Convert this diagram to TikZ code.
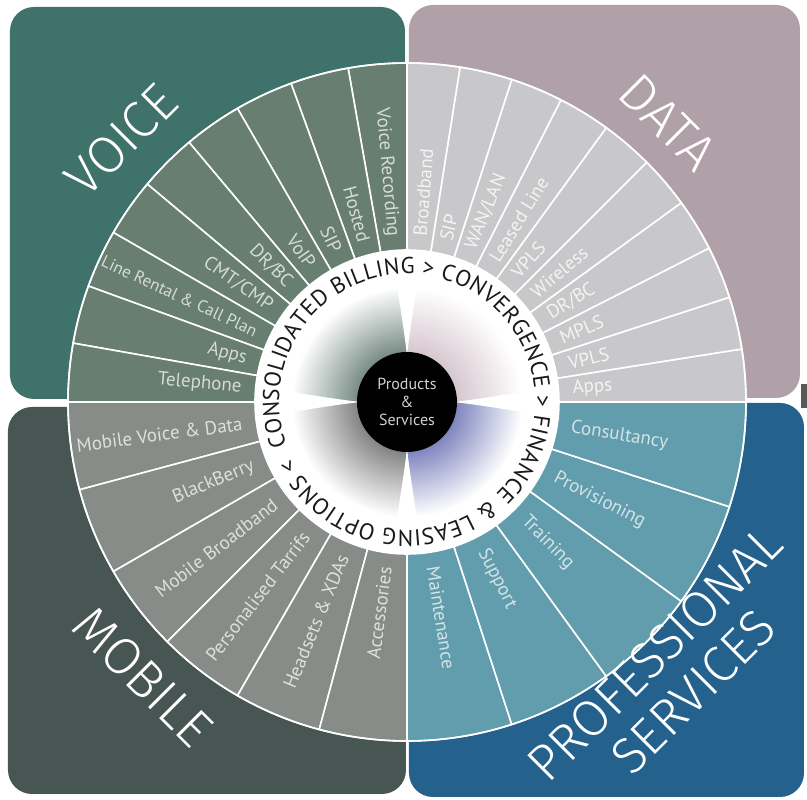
\documentclass[tikz,border=0pt]{standalone}
\usepackage{fontspec}
\setmainfont{PT Sans}
\IfFontExistsTF{Fira Sans Light}
  {\newfontfamily\titlefont{Fira Sans Light}}
  {\newfontfamily\titlefont{PT Sans}}
\usetikzlibrary{decorations.text}

\definecolor{voicebg}{RGB}{62,114,106}
\definecolor{voicesec}{RGB}{104,126,112}
\definecolor{databg}{RGB}{176,160,167}
\definecolor{datasec}{RGB}{200,200,202}
\definecolor{mobilebg}{RGB}{72,86,83}
\definecolor{mobilesec}{RGB}{136,140,136}
\definecolor{probg}{RGB}{36,97,141}
\definecolor{prosec}{RGB}{97,157,172}
\definecolor{ringtext}{RGB}{25,25,25}

% tinted quarters of the inner disc
\pgfdeclareradialshading{tintTR}{\pgfpoint{0bp}{0bp}}{%
  rgb(0bp)=(0.84,0.78,0.81); rgb(10bp)=(0.84,0.78,0.81); rgb(23bp)=(1,1,1); rgb(50bp)=(1,1,1)}
\pgfdeclareradialshading{tintTL}{\pgfpoint{0bp}{0bp}}{%
  rgb(0bp)=(0.47,0.55,0.52); rgb(10bp)=(0.47,0.55,0.52); rgb(23bp)=(1,1,1); rgb(50bp)=(1,1,1)}
\pgfdeclareradialshading{tintBL}{\pgfpoint{0bp}{0bp}}{%
  rgb(0bp)=(0.52,0.52,0.52); rgb(10bp)=(0.52,0.52,0.52); rgb(23bp)=(1,1,1); rgb(50bp)=(1,1,1)}
\pgfdeclareradialshading{tintBR}{\pgfpoint{0bp}{0bp}}{%
  rgb(0bp)=(0.5,0.53,0.75); rgb(10bp)=(0.5,0.53,0.75); rgb(23bp)=(1,1,1); rgb(50bp)=(1,1,1)}

\newcommand\ringfont{\fontsize{23}{23}\selectfont}

\begin{document}
\begin{tikzpicture}[x=1pt,y=1pt]
	\tikzstyle{square}=[rounded corners=24pt]
	\tikzstyle{sector}=[draw=white, line width=1.6pt, line join=round]
	\tikzstyle{item}=[inner sep=0pt, font=\fontsize{19}{19}\selectfont]
	\tikzstyle{title}=[inner sep=0pt, text=white, align=center, font=\titlefont\fontsize{52}{54}\selectfont]
	\def\rin{152}
	\def\rout{339}
	\def\rlab{166}

	\useasboundingbox (-407,-398) rectangle (400,402);

	% the four coloured squares behind the wheel
	\fill[voicebg, square] (-397,3) rectangle (-2,395);
	\fill[databg, square] (2,4) rectangle (393,397);
	\fill[mobilebg, square] (-399,-5) rectangle (-1,-392);
	\fill[probg, square] (2,-1) rectangle (397,-395);
	\fill[black!65] (394,-6) rectangle (400,18);

	% wheel sectors
	\foreach \a in {90,100,...,170}
	  \filldraw[sector, fill=voicesec] (\a:\rin) arc[start angle=\a, end angle=\a+10, radius=\rin]
	    -- ({\a+10}:\rout) arc[start angle=\a+10, end angle=\a, radius=\rout] -- cycle;
	\foreach \a in {0,9,...,81}
	  \filldraw[sector, fill=datasec] (\a:\rin) arc[start angle=\a, end angle=\a+9, radius=\rin]
	    -- ({\a+9}:\rout) arc[start angle=\a+9, end angle=\a, radius=\rout] -- cycle;
	\foreach \a in {180,195,...,255}
	  \filldraw[sector, fill=mobilesec] (\a:\rin) arc[start angle=\a, end angle=\a+15, radius=\rin]
	    -- ({\a+15}:\rout) arc[start angle=\a+15, end angle=\a, radius=\rout] -- cycle;
	\foreach \a in {270,288,...,342}
	  \filldraw[sector, fill=prosec] (\a:\rin) arc[start angle=\a, end angle=\a+18, radius=\rin]
	    -- ({\a+18}:\rout) arc[start angle=\a+18, end angle=\a, radius=\rout] -- cycle;
	\draw[white, line width=1.6pt] (0,0) circle (\rout);

	% inner disc
	\fill[white] (0,0) circle (\rin);
	\foreach \q/\s in {0/tintTR, 90/tintTL, 180/tintBL, 270/tintBR} {
	  \begin{scope}
	    \clip[rotate=\q] (0,0) rectangle (140,140);
	    \shade[shading=\s] (0,0) circle (125);
	  \end{scope}
	}
	\foreach \q in {0,90,180,270}
	  \fill[white, rotate=\q] (46,0) .. controls (75,3) and (105,9) .. (140,13)
	    -- (140,-13) .. controls (105,-9) and (75,-3) .. (46,0) -- cycle;

	\path[decorate, decoration={text along path, text align={fit to path}, text color=ringtext,
	    text={|\ringfont|CONSOLIDATED BILLING > CONVERGENCE > FINANCE {\&} LEASING OPTIONS <}}]
	  (200:128) arc[start angle=200, end angle=-154, radius=128];

	\node[circle, fill=black, minimum size=100pt, inner sep=0pt, align=center,
	  text=white!82!black, font=\fontsize{16}{18}\selectfont] (prod) at (0,0) {Products\\\&\\Services};

	% sector labels
	\foreach \t [count=\i] in {Voice Recording, Hosted, SIP, VoIP, DR/BC, CMT/CMP,
	    {\fontsize{17}{17}\selectfont Line Rental \& Call Plan}, Apps, Telephone}
	  \node[item, text=white!72!voicesec, anchor=east, rotate=85+10*\i-180] (v\i) at ({85+10*\i}:\rlab) {\t};
	\foreach \t [count=\i] in {Broadband, SIP, WAN/LAN, Leased Line, VPLS, Wireless, DR/BC, MPLS, VPLS, Apps}
	  \node[item, text=white!80!datasec, anchor=west, rotate=94.5-9*\i] (d\i) at ({94.5-9*\i}:\rlab) {\t};
	\foreach \t [count=\i] in {{Mobile Voice \& Data}, BlackBerry, Mobile Broadband,
	    Personalised Tarrifs, {Headsets \& XDAs}, Accessories}
	  \node[item, text=white!72!mobilesec, anchor=east, rotate=172.5+15*\i-180] (m\i) at ({172.5+15*\i}:\rlab) {\t};
	\foreach \t [count=\i] in {Consultancy, Provisioning, Training, Support, Maintenance}
	  \node[item, text=white!72!prosec, anchor=west, rotate=9-18*\i] (p\i) at ({9-18*\i}:\rlab) {\t};

	% quadrant titles
	\node[title, rotate=45] (voice) at (-286,262) {VOICE};
	\node[title, rotate=-45] (data) at (261,280) {DATA};
	\node[title, rotate=-45] (mobile) at (-264,-275) {MOBILE};
	\node[title, rotate=45, font=\titlefont\fontsize{51}{54}\selectfont] (prof) at (267,-271) {PROFESSIONAL\\SERVICES};
\end{tikzpicture}
\end{document}
